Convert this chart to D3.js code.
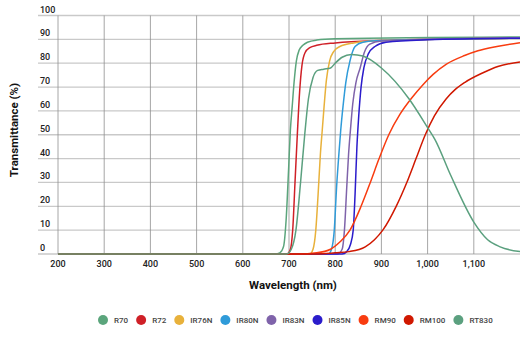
<!DOCTYPE html>
<html><head><meta charset="utf-8">
<script src="https://cdn.jsdelivr.net/npm/d3@7"></script>
<style>
body{margin:0;background:#fff;}
svg{display:block;font-family:Roboto,"Noto Sans",Arial,sans-serif;}
</style></head>
<body><svg id="chart" width="530" height="339"></svg>
<script>
// ---- data ----
const seriesNames = ["R70","R72","IR76N","IR80N","IR83N","IR85N","RM90","RM100","RT830"];
const seriesColors = ["#5ba57c","#cf2027","#e8b13b","#2f9bd9","#7f63aa","#2b1ccb","#f83c10","#d01800","#5ba07f"];
const xTicks = [200,300,400,500,600,700,800,900,1000,1100];
const yTicks = [0,10,20,30,40,50,60,70,80,90,100];

const wlR70   = [200,670,680,688,694,699,703,707,711,716,722,730,740,760,800,1200];
const tR70    = [0,0,0.5,3,15,35,52,62,72,81,85.5,87.5,88.8,89.7,90.2,91];
const wlR72   = [200,695,703,708,713,718,723,728,735,745,760,800,900,1200];
const tR72    = [0,0,2,10,30,50,68,79,84.5,86.5,87.5,88.5,89.5,90.5];
const wlIR76N = [200,745,752,758,763,768,772,776,781,788,797,810,840,900,1200];
const tIR76N  = [0,0,2,10,25,42,52,62,73,81,85,87,88.5,89.5,90.5];
const wlIR80N = [200,785,792,798,803,808,812,817,823,832,843,860,900,1200];
const tIR80N  = [0,0,2,10,28,42,52,62,72,81,87,88.8,89.5,90.5];
const wlIR83N = [200,805,815,820,825,829,833,838,845,854,863,875,900,1000,1200];
const tIR83N  = [0,0,2,10,28,42,52,63,72,78,84.5,88,89.3,90,90.7];
const wlIR85N = [200,815,825,833,839,843,847,851,856,862,872,886,910,1000,1200];
const tIR85N  = [0,0,1,4,10,25,45,58,70,78,84,87,88.8,89.8,90.5];
const wlRM90  = [200,720,760,790,810,832,856,876,895,916,940,966,990,1012,1040,1080,1109,1150,1200];
const tRM90   = [0,0,0.5,2,5,10,20,30,40,50,58.5,65.5,71,75.3,79.5,83.2,85.2,87,88.6];
const wlRM100 = [200,760,800,830,865,885,903,932,955,975,995,1015,1040,1060,1081,1120,1152,1200];
const tRM100  = [0,0,0.5,1,3,6,10,20,30,40,50,58,65,69,72,76,78.6,80.5];
const wlRT830 = [200,695,705,715,725,734,742,752,762,775,790,800,815,835,860,900,960,1000,1016,1050,1100,1130,1157,1200];
const tRT830  = [0,0,2,10,30,50,65,74,77,77.5,78,80,82.5,83.7,83,78,65,53,48,33,13.4,6,3,1];

const seriesWl = [wlR70,wlR72,wlIR76N,wlIR80N,wlIR83N,wlIR85N,wlRM90,wlRM100,wlRT830];
const seriesT  = [tR70,tR72,tIR76N,tIR80N,tIR83N,tIR85N,tRM90,tRM100,tRT830];

// ---- chart ----
const svg = d3.select("#chart");
const x = d3.scaleLinear().domain([200,1200]).range([58,520]);
const y = d3.scaleLinear().domain([0,100]).range([254,15.5]);
const fmt = d3.format(",");

// horizontal grid
svg.append("g").selectAll("line").data(yTicks).join("line")
  .attr("x1",38).attr("x2",520)
  .attr("y1",d=>y(d)).attr("y2",d=>y(d))
  .attr("stroke","#c9c9c9").attr("stroke-width",1.3);
// vertical grid
svg.append("g").selectAll("line").data(xTicks).join("line")
  .attr("x1",d=>x(d)).attr("x2",d=>x(d))
  .attr("y1",y(100)).attr("y2",y(0))
  .attr("stroke","#8f8f8f").attr("stroke-width",0.8);

// y labels
svg.append("g").selectAll("text").data(yTicks).join("text")
  .attr("x",40).attr("y",d=>y(d)-3)
  .attr("font-size",9).attr("font-weight",500).attr("fill","#222")
  .text(d=>d);
// x labels
svg.append("g").selectAll("text").data(xTicks).join("text")
  .attr("x",d=>x(d)).attr("y",267).attr("text-anchor","middle")
  .attr("font-size",9).attr("font-weight",500).attr("fill","#222")
  .text(d=>fmt(d));

// titles
svg.append("text").attr("x",293).attr("y",289).attr("text-anchor","middle")
  .attr("font-size",11.5).attr("font-weight",700).attr("fill","#111").text("Wavelength (nm)");
svg.append("text").attr("transform","translate(18,130) rotate(-90)").attr("text-anchor","middle")
  .attr("font-size",11.5).attr("font-weight",700).attr("fill","#111").text("Transmittance (%)");

// lines
svg.append("defs").append("clipPath").attr("id","clip").append("rect")
  .attr("x",x(200)).attr("y",y(100)-2).attr("width",x(1200)-x(200)).attr("height",y(0)-y(100)+3);
const line = d3.line().x(d=>x(d[0])).y(d=>y(d[1])).curve(d3.curveMonotoneX);
const g = svg.append("g").attr("clip-path","url(#clip)");
seriesNames.forEach((n,i)=>{
  const pts = seriesWl[i].map((w,j)=>[w,seriesT[i][j]]);
  g.append("path").datum(pts).attr("d",line)
    .attr("fill","none").attr("stroke",seriesColors[i]).attr("stroke-width",1.5);
});

// legend
const lg = svg.append("g");
let lx = 103;
seriesNames.forEach((n,i)=>{
  lg.append("circle").attr("cx",lx).attr("cy",320).attr("r",5).attr("fill",seriesColors[i]);
  const t = lg.append("text").attr("x",lx+11).attr("y",323)
    .attr("font-size",8).attr("font-weight",500).attr("fill","#444").text(n);
  lx += 11 + t.node().getComputedTextLength() + 13;
});
</script></body></html>
